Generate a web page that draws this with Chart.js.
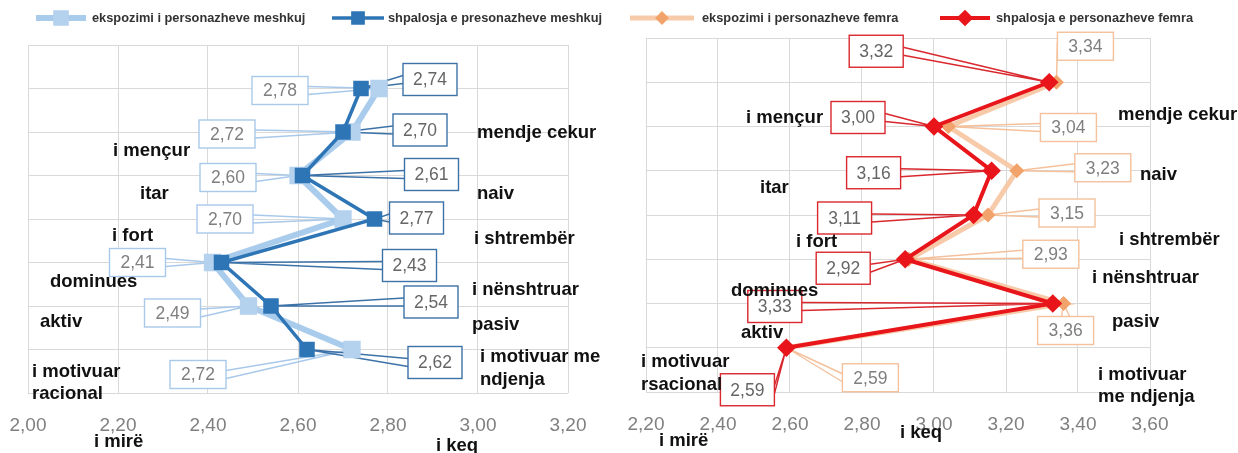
<!DOCTYPE html>
<html>
<head>
<meta charset="utf-8">
<script src="https://cdn.jsdelivr.net/npm/chart.js@4.4.0/dist/chart.umd.min.js"></script>
<style>
  html, body { margin: 0; padding: 0; background: #fff; }
  #wrap { position: relative; width: 1238px; height: 453px; overflow: hidden; }
  .panel { position: absolute; top: 0; height: 453px; }
  #panel-m { left: 0; width: 620px; }
  #panel-f { left: 620px; width: 618px; }
</style>
</head>
<body>
<div id="wrap">
  <div class="panel" id="panel-m"><canvas id="chart-m" width="620" height="453"></canvas></div>
  <div class="panel" id="panel-f"><canvas id="chart-f" width="618" height="453"></canvas></div>
</div>
<script>
"use strict";

// ── Data ──────────────────────────────────────────────────────────────────────
const rows = [1, 2, 3, 4, 5, 6, 7];

const maleExposure   = [2.78, 2.72, 2.60, 2.70, 2.41, 2.49, 2.72];
const maleDisplay    = [2.74, 2.70, 2.61, 2.77, 2.43, 2.54, 2.62];
const femaleExposure = [3.34, 3.04, 3.23, 3.15, 2.93, 3.36, 2.59];
const femaleDisplay  = [3.32, 3.00, 3.16, 3.11, 2.92, 3.33, 2.59];

const maleTickValues   = [2.0, 2.2, 2.4, 2.6, 2.8, 3.0, 3.2];
const maleTickLabels   = ["2,00", "2,20", "2,40", "2,60", "2,80", "3,00", "3,20"];
const femaleTickValues = [2.2, 2.4, 2.6, 2.8, 3.0, 3.2, 3.4, 3.6];
const femaleTickLabels = ["2,20", "2,40", "2,60", "2,80", "3,00", "3,20", "3,40", "3,60"];

const maleSeriesNames   = ["ekspozimi i personazheve meshkuj", "shpalosja e presonazheve meshkuj"];
const femaleSeriesNames = ["ekspozimi i personazheve femra", "shpalosja e personazheve femra"];

const maleTraits = ["mendje cekur", "i mençur", "itar", "naiv", "i fort", "i shtrembër",
  "dominues", "i nënshtruar", "aktiv", "pasiv", "i motivuar me", "ndjenja",
  "i motivuar", "racional", "i mirë", "i keq"];
const femaleTraits = ["i mençur", "mendje cekur", "naiv", "itar", "i shtrembër", "i fort",
  "i nënshtruar", "dominues", "pasiv", "aktiv", "i motivuar", "rsacional",
  "i motivuar", "me ndjenja", "i mirë", "i keq"];

// ── Layout (pixel positions of annotations, callout offsets) ───────────────────
const maleTraitPos = [[477, 133], [113, 151], [140, 194], [477, 194], [112, 236], [474, 239],
  [50, 282], [472, 290], [40, 322], [472, 325], [480, 357], [480, 380],
  [32, 372], [32, 394], [94, 442], [436, 446]];
const femaleTraitPos = [[126, 118], [498, 115], [520, 175], [140, 188], [499, 240], [176, 242],
  [472, 278], [111, 291], [492, 322], [121, 333], [21, 362], [21, 385],
  [478, 375], [478, 397], [39, 441], [280, 433]];

const maleExpOffsets  = [[-99, 2], [-125, 2], [-70, 2], [-118, 0], [-75, 0], [-76, 7], [-154, 25]];
const maleDispOffsets = [[69, -9], [77, -2], [129, -1], [42, -1], [188, 3], [160, -4], [128, 13]];
const femaleExpOffsets  = [[29, -36], [120, 1], [86, -3], [79, -2], [142, -5], [2, 27], [84, 30]];
const femaleDispOffsets = [[-173, -31], [-76, -9], [-118, 2], [-129, 3], [-62, 9], [-278, 3], [-39, 42]];

const FONT = "'Liberation Sans', Arial, sans-serif";

const fmt = v => v.toFixed(2).replace(".", ",");

// ── Plugins ───────────────────────────────────────────────────────────────────
function drawCallouts(chart, opts, pass) {
  const ctx = chart.ctx;
  for (const set of opts.sets) {
    const meta = chart.getDatasetMeta(set.dataset);
    const raw  = chart.data.datasets[set.dataset].data;
    meta.data.forEach((pt, i) => {
      const [dx, dy] = set.offsets[i];
      const cx = pt.x + dx, cy = pt.y + dy;
      const w = set.w, h = set.h;
      ctx.save();
      ctx.strokeStyle = set.border;
      ctx.lineWidth = 1.4;
      if (pass === "leader") {
        let a, b;
        if (Math.abs(dx) > w / 2) {
          const ex = dx < 0 ? cx + w / 2 : cx - w / 2;
          a = [ex, cy - 4]; b = [ex, cy + 4];
        } else {
          const ey = dy < 0 ? cy + h / 2 : cy - h / 2;
          a = [cx - 4, ey]; b = [cx + 4, ey];
        }
        ctx.beginPath();
        ctx.moveTo(a[0], a[1]);
        ctx.lineTo(pt.x, pt.y);
        ctx.lineTo(b[0], b[1]);
        ctx.stroke();
      } else {
        ctx.fillStyle = "#fff";
        ctx.fillRect(cx - w / 2, cy - h / 2, w, h);
        ctx.strokeRect(cx - w / 2, cy - h / 2, w, h);
        ctx.fillStyle = set.color;
        ctx.font = `17.5px ${FONT}`;
        ctx.textAlign = "center";
        ctx.textBaseline = "middle";
        ctx.fillText(fmt(raw[i].x), cx, cy + 1);
      }
      ctx.restore();
    });
  }
}

const calloutPlugin = {
  id: "callouts",
  beforeDatasetsDraw(chart, args, opts) { drawCallouts(chart, opts, "leader"); },
  afterDatasetsDraw(chart, args, opts)  { drawCallouts(chart, opts, "box"); },
};

const traitPlugin = {
  id: "traits",
  afterDraw(chart, args, opts) {
    const ctx = chart.ctx;
    ctx.save();
    ctx.fillStyle = "#111";
    ctx.font = `bold 18.5px ${FONT}`;
    ctx.textAlign = "left";
    ctx.textBaseline = "middle";
    opts.texts.forEach((t, i) => ctx.fillText(t, opts.pos[i][0], opts.pos[i][1]));
    ctx.restore();
  },
};

const keyPlugin = {
  id: "seriesKey",
  afterDraw(chart, args, opts) {
    const ctx = chart.ctx;
    opts.items.forEach((it, i) => {
      const ds = chart.data.datasets[it.dataset];
      ctx.save();
      ctx.strokeStyle = ds.borderColor;
      ctx.lineWidth = ds.borderWidth;
      ctx.beginPath();
      ctx.moveTo(it.x1, opts.y);
      ctx.lineTo(it.x2, opts.y);
      ctx.stroke();
      ctx.fillStyle = ds.pointBackgroundColor;
      ctx.strokeStyle = ds.pointBorderColor;
      Chart.helpers.drawPoint(ctx, {
        pointStyle: ds.pointStyle, radius: ds.pointRadius * 0.85, borderWidth: 1, rotation: 0,
      }, (it.x1 + it.x2) / 2, opts.y);
      ctx.fillStyle = "#333";
      ctx.font = `bold 12.8px ${FONT}`;
      ctx.textAlign = "left";
      ctx.textBaseline = "middle";
      ctx.fillText(opts.names[i], it.tx, opts.y);
      ctx.restore();
    });
  },
};

// ── Chart factory ─────────────────────────────────────────────────────────────
function makeChart(id, c) {
  const toPts = vals => vals.map((v, i) => ({ x: v, y: rows[i] }));
  return new Chart(document.getElementById(id), {
    type: "line",
    data: {
      datasets: [
        {
          label: c.names[0],
          data: toPts(c.exposure),
          borderColor: c.light, borderWidth: c.lightWidth,
          pointStyle: c.marker, pointRadius: c.lightRadius,
          pointBackgroundColor: c.lightPoint, pointBorderColor: c.lightPoint,
          order: 1, tension: 0,
        },
        {
          label: c.names[1],
          data: toPts(c.display),
          borderColor: c.dark, borderWidth: c.darkWidth,
          pointStyle: c.marker, pointRadius: c.darkRadius,
          pointBackgroundColor: c.dark, pointBorderColor: c.dark,
          order: 0, tension: 0,
        },
      ],
    },
    options: {
      responsive: false,
      animation: false,
      layout: { padding: c.padding },
      plugins: {
        legend: { display: false },
        tooltip: { enabled: false },
        callouts: {
          sets: [
            { dataset: 0, offsets: c.expOffsets, border: c.lightBox, color: "#7f7f7f", w: 56, h: 28 },
            { dataset: 1, offsets: c.dispOffsets, border: c.darkBox, color: "#666", w: 54, h: 32 },
          ],
        },
        traits: { texts: c.traits, pos: c.traitPos },
        seriesKey: { y: 18, names: c.names, items: c.keyItems },
      },
      scales: {
        x: {
          type: "linear",
          min: c.ticks[0],
          max: c.ticks[c.ticks.length - 1],
          afterBuildTicks: s => { s.ticks = c.ticks.map(v => ({ value: v })); },
          afterFit: s => {
            s.height = 45;
            s.paddingLeft = 0;
            s.paddingRight = 0;
          },
          grid: { color: "#d9d9d9", drawTicks: false },
          border: { display: false },
          ticks: {
            padding: 21,
            color: "#808080",
            font: { size: 19, family: FONT },
            callback: (v, i) => c.tickLabels[i],
          },
        },
        y: {
          type: "linear",
          min: 0, max: 8, reverse: true,
          afterFit: s => { s.width = 0; },
          grid: { color: "#d9d9d9", drawTicks: false },
          border: { display: false },
          ticks: { display: false, stepSize: 1 },
        },
      },
    },
    plugins: [calloutPlugin, traitPlugin, keyPlugin],
  });
}

// ── Init ──────────────────────────────────────────────────────────────────────
makeChart("chart-m", {
  names: maleSeriesNames,
  exposure: maleExposure, display: maleDisplay,
  ticks: maleTickValues, tickLabels: maleTickLabels,
  traits: maleTraits, traitPos: maleTraitPos,
  expOffsets: maleExpOffsets, dispOffsets: maleDispOffsets,
  light: "rgba(160,198,234,0.9)", lightPoint: "#b4d1ee", lightWidth: 6, lightRadius: 8,
  dark: "#2e75b6", darkWidth: 3.5, darkRadius: 8.5,
  lightBox: "#a9c9ea", darkBox: "#3d72a8",
  marker: "rect",
  padding: { left: 28, right: 52, top: 45, bottom: 15 },
  keyItems: [
    { dataset: 0, x1: 36, x2: 86, tx: 92 },
    { dataset: 1, x1: 332, x2: 384, tx: 388 },
  ],
});

makeChart("chart-f", {
  names: femaleSeriesNames,
  exposure: femaleExposure, display: femaleDisplay,
  ticks: femaleTickValues, tickLabels: femaleTickLabels,
  traits: femaleTraits, traitPos: femaleTraitPos,
  expOffsets: femaleExpOffsets, dispOffsets: femaleDispOffsets,
  light: "rgba(246,196,160,0.9)", lightPoint: "#f2a36b", lightWidth: 5, lightRadius: 4,
  dark: "#e8151b", darkWidth: 4, darkRadius: 6.5,
  lightBox: "#f4c19c", darkBox: "#d9282e",
  marker: "rectRot",
  padding: { left: 26, right: 88, top: 38, bottom: 16 },
  keyItems: [
    { dataset: 0, x1: 10, x2: 74, tx: 82 },
    { dataset: 1, x1: 320, x2: 370, tx: 376 },
  ],
});
</script>
</body>
</html>
